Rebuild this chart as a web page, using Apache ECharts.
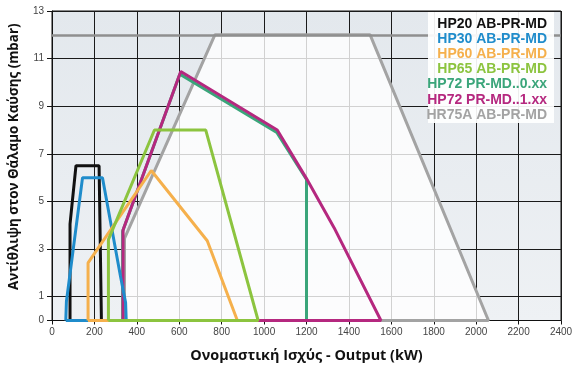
<!DOCTYPE html>
<html>
<head>
<meta charset="utf-8">
<script src="https://cdn.jsdelivr.net/npm/echarts@6/dist/echarts.min.js"></script>
<style>html,body{margin:0;padding:0;background:#fff}#c{width:577px;height:377px}</style>
</head>
<body>
<div id="c"></div>
<script>
// Tick labels
const xTicks = [0,200,400,600,800,1000,1200,1400,1600,1800,2000,2200,2400];
const yTicks = [0,1,3,5,7,9,11,13];

// Series names and colours
const names = ['HP20 AB-PR-MD','HP30 AB-PR-MD','HP60 AB-PR-MD','HP65 AB-PR-MD','HP72 PR-MD..0.xx','HP72 PR-MD..1.xx','HR75A AB-PR-MD'];
const colors = ['#111111','#1f8ccb','#f5b04c','#8cc43f','#3aa57a','#b5287f','#a3a3a3'];

// Working fields [output kW, back-pressure mbar]
const hp20  = [[85,0],[85,4.05],[113,6.5],[222,6.5],[233,0],[85,0]];
const hp30  = [[65,0],[68,0.8],[144,6.0],[238,6.0],[322,1.9],[347,0.75],[350,0],[65,0]];
const hp60  = [[170,0],[170,2.42],[468,6.3],[732,3.35],[874,0],[170,0]];
const hp65  = [[266,0],[266,3.4],[483,8.0],[725,8.0],[972,0],[266,0]];
const hp72a = [[333,0],[333,3.75],[603,10.35],[1060,7.9],[1200,5.92],[1200,0],[333,0]];
const hp72b = [[335,0],[335,3.8],[607,10.46],[1062,8.0],[1200,5.96],[1330,3.9],[1551,0],[335,0]];
const hr75a = [[342,0],[342,3.45],[768,12],[1500,12],[2058,0],[342,0]];
const limitLine = 12;

const chart = echarts.init(document.getElementById('c'), null, {renderer:'canvas'});

function lineSeries(name, data, color, extra) {
  return Object.assign({
    name: name, type: 'line', data: data, symbol: 'none', smooth: false,
    lineStyle: {color: color, width: 3}, itemStyle: {color: color},
    silent: true, animation: false
  }, extra || {});
}

const series = [
  lineSeries(names[6], hr75a, colors[6], {
    areaStyle: {color: 'rgba(255,255,255,0.8)', opacity: 1},
    markLine: {silent: true, symbol: 'none', label: {show: false},
      lineStyle: {color: '#8f8f8f', width: 2.5, type: 'solid'},
      data: [{yAxis: limitLine}]}
  }),
  lineSeries(names[4], hp72a, colors[4]),
  lineSeries(names[5], hp72b, colors[5]),
  lineSeries(names[0], hp20, colors[0]),
  lineSeries(names[1], hp30, colors[1]),
  lineSeries(names[2], hp60, colors[2]),
  lineSeries(names[3], hp65, colors[3])
];

const legendX = 547, legendY0 = 24, legendStep = 15.15;
const legendTexts = names.map((n, i) => ({
  type: 'text', x: legendX, y: legendY0 + i * legendStep, z: 11,
  style: {text: n, fill: colors[i], textAlign: 'right', textVerticalAlign: 'middle',
    font: 'bold 14px "Liberation Sans", Arial, sans-serif'}
}));

chart.setOption({
  animation: false,
  grid: {left: 48.5, right: 16, top: 11, bottom: 56.5, show: true,
    borderColor: '#111', borderWidth: 1,
    backgroundColor: {type: 'linear', x: 0, y: 0, x2: 0, y2: 1,
      colorStops: [{offset: 0, color: '#e3e8ed'}, {offset: 1, color: '#eef1f4'}]}},
  xAxis: {
    type: 'value', min: 0, max: 2400, interval: 100,
    name: 'Ονομαστική Ισχύς - Output (kW)', nameLocation: 'middle', nameGap: 28,
    nameTextStyle: {fontFamily: '"Open Sans", sans-serif', fontWeight: 'bold', fontSize: 14.4, color: '#111'},
    axisLine: {show: true, lineStyle: {color: '#111', width: 1}},
    axisTick: {show: true, length: 4, lineStyle: {color: '#111'}, customValues: xTicks},
    axisLabel: {customValues: xTicks, formatter: v => String(v), color: '#444', fontSize: 10, margin: 7,
      fontFamily: '"Liberation Sans", Arial, sans-serif'},
    splitLine: {show: true, lineStyle: {color: '#1a1a1a', width: 1}}
  },
  yAxis: {
    type: 'value', min: 0, max: 13, interval: 1,
    name: 'Αντίθλιψη στον Θάλαμο Καύσης (mbar)', nameLocation: 'middle', nameGap: 31, nameRotate: 90,
    nameTextStyle: {fontFamily: '"Open Sans", sans-serif', fontWeight: 'bold', fontSize: 13.4, color: '#111',
      padding: [0, 0, 0, 18]},
    axisLine: {show: true, lineStyle: {color: '#111', width: 1}},
    axisTick: {show: true, length: 5, lineStyle: {color: '#111'}, customValues: yTicks},
    axisLabel: {customValues: yTicks, formatter: v => String(v), color: '#444', fontSize: 10, margin: 8,
      fontFamily: '"Liberation Sans", Arial, sans-serif'},
    splitLine: {show: true, lineStyle: {color: '#1a1a1a', width: 1}}
  },
  graphic: [
    {type: 'rect', z: 10, shape: {x: 428, y: 12, width: 126, height: 111}, style: {fill: 'rgba(255,255,255,0.92)'}}
  ].concat(legendTexts),
  series: series
});
</script>
</body>
</html>
